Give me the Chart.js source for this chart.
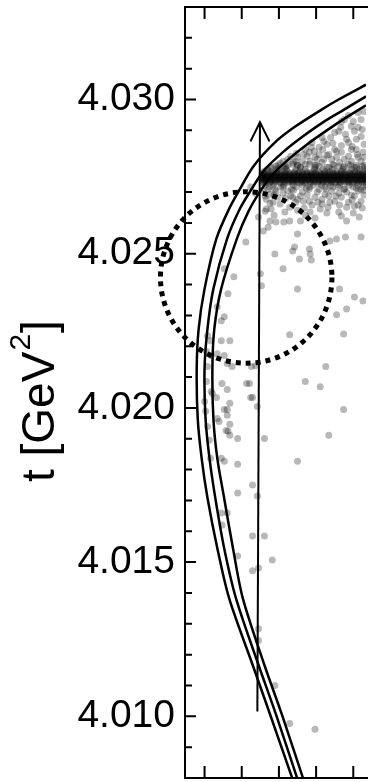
<!DOCTYPE html>
<html>
<head>
<meta charset="utf-8">
<script src="https://cdn.jsdelivr.net/npm/chart.js@4.4.1/dist/chart.umd.min.js"></script>
<style>
  html, body { margin: 0; padding: 0; background: #fff; }
  canvas { display: block; }
</style>
</head>
<body>
<canvas id="grafico" width="370" height="782"></canvas>
<script>
// eixo y: t [GeV^2]; eixo x sem rótulos visíveis (recorte), unidades = passo dos ticks
const yMin = 4.008, yMax = 4.033;
const xMin = -0.526, xMax = 4.342;
const xTickValues = [0, 1, 2, 3, 4];

// três curvas de fronteira (externa, meio, interna)
const curveOuter = [
  [4.342, 4.03048], [3.605, 4.03000], [3.158, 4.02968], [2.447, 4.02913], [1.895, 4.02861],
  [1.316, 4.02784], [0.947, 4.02709], [0.658, 4.02645], [0.316, 4.02548], [0.000, 4.02386],
  [-0.158, 4.02257], [-0.211, 4.02128], [-0.184, 4.01966], [-0.079, 4.01837], [0.079, 4.01708],
  [0.342, 4.01546], [0.658, 4.01384], [1.289, 4.01168], [1.763, 4.01006], [2.368, 4.00796]
];
const curveMiddle = [
  [4.342, 4.03010], [3.763, 4.02968], [3.184, 4.02926], [2.605, 4.02877], [2.132, 4.02832],
  [1.605, 4.02771], [1.263, 4.02709], [0.947, 4.02645], [0.605, 4.02548], [0.237, 4.02386],
  [0.079, 4.02257], [0.000, 4.02128], [0.026, 4.01966], [0.132, 4.01837], [0.289, 4.01708],
  [0.526, 4.01546], [0.842, 4.01384], [1.447, 4.01168], [1.921, 4.01006], [2.500, 4.00796]
];
const curveInner = [
  [4.342, 4.02981], [3.816, 4.02942], [3.289, 4.02900], [2.763, 4.02855], [2.289, 4.02809],
  [1.842, 4.02758], [1.500, 4.02703], [1.184, 4.02638], [0.868, 4.02548], [0.447, 4.02386],
  [0.263, 4.02257], [0.211, 4.02128], [0.237, 4.01966], [0.342, 4.01837], [0.526, 4.01708],
  [0.763, 4.01546], [1.026, 4.01384], [1.605, 4.01168], [2.079, 4.01006], [2.658, 4.00796]
];

// seta vertical (base -> ponta) e círculo pontilhado
const arrowLine = [[1.42, 4.01016], [1.49, 4.02926]];
const dottedCircle = { x: 1.12, y: 4.02423, r: 0.00278 };

// faixa densa de eventos: [t, lista de x]
const bandRows = [
  [4.02787, [1.98, 2.50, 3.00, 3.48, 3.93, 4.29]],
  [4.02780, [1.81, 2.17, 2.58, 2.97, 3.35, 3.73, 4.09, 4.32]],
  [4.02774, [1.68, 1.93, 2.20, 2.45, 2.71, 2.95, 3.19, 3.44, 3.71, 3.96, 4.17, 4.38]],
  [4.02767, [1.60, 1.76, 1.92, 2.09, 2.24, 2.42, 2.56, 2.74, 2.91, 3.05, 3.23, 3.37, 3.54, 3.69, 3.86, 4.04, 4.18, 4.33]],
  [4.02762, [1.58, 1.70, 1.82, 1.95, 2.06, 2.18, 2.28, 2.41, 2.53, 2.63, 2.76, 2.87, 2.98, 3.09, 3.22, 3.32, 3.45, 3.56, 3.68, 3.78, 3.91, 4.02, 4.13, 4.25, 4.36]],
  [4.02758, [1.55, 1.63, 1.75, 1.84, 1.93, 2.03, 2.12, 2.20, 2.30, 2.39, 2.47, 2.58, 2.66, 2.75, 2.86, 2.93, 3.02, 3.13, 3.21, 3.31, 3.38, 3.48, 3.57, 3.65, 3.75, 3.84, 3.94, 4.03, 4.12, 4.21, 4.30]],
  [4.02753, [1.55, 1.62, 1.69, 1.77, 1.86, 1.94, 2.01, 2.10, 2.17, 2.25, 2.33, 2.40, 2.49, 2.57, 2.64, 2.73, 2.81, 2.88, 2.97, 3.04, 3.12, 3.20, 3.28, 3.36, 3.44, 3.51, 3.60, 3.67, 3.76, 3.85, 3.92, 4.01, 4.10, 4.19, 4.28, 4.37]],
  [4.02751, [1.57, 1.65, 1.74, 1.81, 1.90, 1.99, 2.06, 2.16, 2.23, 2.32, 2.41, 2.50, 2.59, 2.68, 2.78, 2.87, 2.95, 3.05, 3.14, 3.22, 3.32, 3.41, 3.50, 3.59, 3.69, 3.78, 3.86, 3.96, 4.05, 4.15, 4.23, 4.32]],
  [4.02748, [1.56, 1.60, 1.66, 1.72, 1.80, 1.91, 1.97, 2.05, 2.14, 2.19, 2.29, 2.36, 2.43, 2.54, 2.60, 2.67, 2.77, 2.84, 2.90, 3.01, 3.07, 3.15, 3.24, 3.30, 3.40, 3.46, 3.55, 3.63, 3.70, 3.79, 3.88, 3.95, 4.06, 4.16, 4.24, 4.33]],
  [4.02743, [1.57, 1.59, 1.64, 1.74, 1.83, 1.89, 1.99, 2.07, 2.12, 2.22, 2.31, 2.38, 2.46, 2.52, 2.62, 2.70, 2.79, 2.86, 2.94, 3.03, 3.10, 3.18, 3.26, 3.34, 3.42, 3.49, 3.58, 3.66, 3.74, 3.82, 3.90, 3.99, 4.08, 4.14, 4.22, 4.31, 4.39]],
  [4.02740, [1.58, 1.66, 1.76, 1.85, 1.95, 2.04, 2.13, 2.23, 2.32, 2.42, 2.49, 2.59, 2.69, 2.78, 2.88, 2.97, 3.06, 3.16, 3.27, 3.37, 3.46, 3.56, 3.64, 3.73, 3.83, 3.93, 4.02, 4.11, 4.20, 4.29, 4.38]],
  [4.02738, [1.56, 1.61, 1.71, 1.79, 1.88, 1.98, 2.08, 2.16, 2.26, 2.35, 2.44, 2.51, 2.61, 2.71, 2.80, 2.89, 2.99, 3.08, 3.17, 3.25, 3.35, 3.43, 3.53, 3.62, 3.71, 3.80, 3.89, 3.98, 4.07, 4.17, 4.26, 4.35]],
  [4.02733, [1.58, 1.67, 1.78, 1.90, 2.02, 2.15, 2.27, 2.37, 2.50, 2.62, 2.72, 2.85, 2.96, 3.06, 3.19, 3.29, 3.41, 3.52, 3.64, 3.77, 3.87, 4.00, 4.11, 4.23, 4.34]],
  [4.02729, [1.59, 1.73, 1.87, 2.04, 2.21, 2.36, 2.55, 2.69, 2.85, 3.03, 3.16, 3.33, 3.50, 3.66, 3.83, 3.97, 4.15, 4.30]],
  [4.02722, [1.62, 1.85, 2.13, 2.39, 2.64, 2.92, 3.14, 3.39, 3.63, 3.89, 4.12, 4.36]],
  [4.02716, [1.74, 2.11, 2.48, 2.83, 3.24, 3.59, 3.99, 4.27]],
  [4.02709, [1.89, 2.34, 2.81, 3.27, 3.75, 4.20]]
];

// eventos acima da faixa
const haloAbove = [
  [3.68, 4.02929], [3.76, 4.02935], [4.21, 4.02935], [3.95, 4.02913], [3.50, 4.02893], [3.61, 4.02897],
  [4.03, 4.02897], [4.21, 4.02880], [3.87, 4.02861], [3.21, 4.02864], [3.29, 4.02855], [2.89, 4.02861],
  [4.08, 4.02838], [2.71, 4.02838], [2.95, 4.02832], [3.08, 4.02822], [3.34, 4.02822], [3.68, 4.02829],
  [4.26, 4.02829], [2.50, 4.02813], [2.32, 4.02816], [2.11, 4.02800], [2.63, 4.02800], [2.84, 4.02800],
  [3.16, 4.02796], [3.42, 4.02806], [3.63, 4.02796], [3.95, 4.02800], [4.21, 4.02800], [2.37, 4.02790],
  [1.92, 4.02784], [2.11, 4.02780], [1.76, 4.02780], [2.50, 4.02787], [2.97, 4.02787], [3.29, 4.02780],
  [3.76, 4.02784], [4.08, 4.02787], [2.24, 4.02806], [2.76, 4.02816], [3.50, 4.02838], [3.82, 4.02871],
  [4.13, 4.02910], [3.87, 4.02948], [4.13, 4.02958], [4.29, 4.02961], [3.18, 4.02838], [3.55, 4.02813],
  [3.03, 4.02806], [2.71, 4.02790], [2.03, 4.02793], [2.45, 4.02800], [3.87, 4.02816], [4.13, 4.02813],
  [4.29, 4.02855], [3.39, 4.02877], [3.08, 4.02845], [3.97, 4.02848], [3.68, 4.02851], [2.82, 4.02829],
  [2.24, 4.02787], [2.39, 4.02796], [2.58, 4.02780], [2.82, 4.02790], [3.08, 4.02784], [3.21, 4.02806],
  [3.45, 4.02790], [3.61, 4.02784], [3.87, 4.02790], [4.03, 4.02780], [4.24, 4.02784], [2.97, 4.02813],
  [3.29, 4.02819], [3.76, 4.02806], [4.11, 4.02822], [2.66, 4.02822], [3.55, 4.02832], [3.95, 4.02838],
  [4.29, 4.02813], [2.87, 4.02845], [3.45, 4.02858], [3.79, 4.02887], [4.08, 4.02871], [3.66, 4.02910],
  [4.00, 4.02929], [3.16, 4.02877], [4.24, 4.02903], [2.47, 4.02826], [2.18, 4.02784], [2.00, 4.02777]
];

// eventos logo abaixo da faixa
const haloBelow = [
  [1.63, 4.02687], [1.76, 4.02693], [2.11, 4.02696], [2.37, 4.02683], [2.45, 4.02667], [2.58, 4.02687],
  [2.82, 4.02670], [2.97, 4.02683], [3.16, 4.02677], [3.34, 4.02687], [3.50, 4.02670], [3.68, 4.02683],
  [3.87, 4.02667], [4.03, 4.02687], [4.21, 4.02670], [1.66, 4.02677], [1.84, 4.02667], [2.03, 4.02661],
  [2.29, 4.02651], [1.66, 4.02645], [1.79, 4.02645], [2.24, 4.02703], [2.63, 4.02700], [3.03, 4.02700],
  [3.42, 4.02703], [3.82, 4.02700], [4.13, 4.02703], [1.92, 4.02703], [1.58, 4.02703], [2.76, 4.02690],
  [3.24, 4.02693], [3.61, 4.02696], [3.97, 4.02674], [4.29, 4.02690], [2.50, 4.02677], [2.18, 4.02680],
  [2.89, 4.02658], [3.63, 4.02658], [4.13, 4.02658], [3.16, 4.02661], [3.37, 4.02667], [3.82, 4.02651],
  [1.97, 4.02683], [2.68, 4.02648], [1.76, 4.02664], [1.24, 4.02716], [1.37, 4.02696],
  [1.71, 4.02709], [2.05, 4.02716], [2.39, 4.02706], [2.74, 4.02712], [3.08, 4.02709], [3.45, 4.02716],
  [3.76, 4.02709], [4.08, 4.02712], [4.29, 4.02706], [1.87, 4.02690], [2.32, 4.02687], [2.66, 4.02670],
  [3.05, 4.02667], [3.53, 4.02687], [3.95, 4.02690], [4.24, 4.02648], [2.16, 4.02635], [2.50, 4.02641],
  [3.29, 4.02632], [3.68, 4.02622], [1.87, 4.02625], [2.97, 4.02616], [4.00, 4.02632]
];

// eventos esparsos
const sparsePoints = [
  [1.63, 4.02638], [1.45, 4.02619], [1.76, 4.02606], [1.92, 4.02603], [2.13, 4.02603], [2.29, 4.02606],
  [2.58, 4.02606], [2.84, 4.02635], [3.11, 4.02645], [3.32, 4.02651], [3.61, 4.02635], [3.82, 4.02606],
  [4.16, 4.02619], [1.58, 4.02574], [1.71, 4.02586], [2.50, 4.02564], [3.55, 4.02548], [3.79, 4.02554],
  [4.21, 4.02554], [1.11, 4.02538], [1.89, 4.02499], [2.11, 4.02451], [2.37, 4.02509], [2.42, 4.02522],
  [2.82, 4.02515], [2.84, 4.02499], [2.87, 4.02480], [1.53, 4.02396], [2.50, 4.02386], [3.63, 4.02386],
  [4.03, 4.02360], [4.26, 4.02347], [3.82, 4.02321], [3.55, 4.02302], [0.79, 4.02425], [0.63, 4.02370],
  [0.45, 4.02218], [0.68, 4.02218], [2.29, 4.02237], [3.74, 4.02240], [0.08, 4.02234], [0.16, 4.02218],
  [0.18, 4.02170], [0.53, 4.02170], [0.53, 4.02451], [1.50, 4.02435], [3.37, 4.02541], [2.55, 4.02483],
  [2.71, 4.02625], [4.03, 4.02654], [0.34, 4.02328], [0.53, 4.02296], [0.45, 4.02283], [0.05, 4.02183],
  [0.34, 4.02176], [0.08, 4.02134], [0.61, 4.02144], [0.74, 4.02134], [1.26, 4.02134], [1.37, 4.02137],
  [3.26, 4.02134], [2.71, 4.02086], [3.11, 4.02069], [0.05, 4.02086], [0.47, 4.02079], [1.13, 4.02079],
  [1.21, 4.02079], [0.61, 4.02060], [0.18, 4.02053], [0.21, 4.02047], [0.32, 4.02034], [1.24, 4.02034],
  [1.29, 4.02034], [0.00, 4.02021], [0.68, 4.02015], [0.53, 4.01995], [0.61, 4.01995], [1.42, 4.02005],
  [3.74, 4.01995], [0.03, 4.01989], [0.61, 4.01976], [0.34, 4.01966], [0.39, 4.01956], [0.08, 4.01940],
  [0.68, 4.01947], [0.58, 4.01927], [0.63, 4.01924], [0.68, 4.01911], [0.89, 4.01901], [1.61, 4.01901],
  [3.34, 4.01911], [0.13, 4.01895], [0.45, 4.01837], [0.53, 4.01827], [0.16, 4.01837], [0.89, 4.01817],
  [2.50, 4.01827], [1.29, 4.01750], [0.89, 4.01724], [1.42, 4.01714], [0.45, 4.01659], [0.61, 4.01659],
  [0.47, 4.01620], [1.29, 4.01585], [1.61, 4.01585], [0.89, 4.01520], [1.82, 4.01507], [1.29, 4.01472],
  [1.45, 4.01481], [1.45, 4.01284], [1.45, 4.01246], [1.89, 4.01100], [2.29, 4.00977], [2.97, 4.00958]
];

const FONTE = "'Liberation Sans', Arial, Helvetica, sans-serif";
const toXY = arr => arr.map(([x, y]) => ({ x, y }));

const scatterPoints = [
  ...bandRows.flatMap(([y, xs]) => xs.map(x => ({ x, y }))),
  ...toXY(haloAbove),
  ...toXY(haloBelow),
  ...toXY(sparsePoints)
];

// moldura, ticks para dentro, ponta da seta, círculo pontilhado e título do eixo y
const frameAndMarks = {
  id: 'frameAndMarks',
  afterDatasetsDraw(chart) {
    const { ctx, chartArea: a, scales: { x, y } } = chart;
    ctx.save();
    ctx.strokeStyle = '#000';

    // ponta da seta
    const [tx, ty] = arrowLine[arrowLine.length - 1];
    const px = x.getPixelForValue(tx), py = y.getPixelForValue(ty);
    ctx.lineWidth = 2;
    ctx.beginPath();
    ctx.moveTo(px - 9.5, py + 19);
    ctx.lineTo(px, py);
    ctx.lineTo(px + 9.5, py + 19);
    ctx.stroke();

    // círculo pontilhado
    const cx = x.getPixelForValue(dottedCircle.x);
    const cy = y.getPixelForValue(dottedCircle.y);
    const r = Math.abs(y.getPixelForValue(dottedCircle.y + dottedCircle.r) - cy);
    ctx.lineWidth = 5;
    ctx.setLineDash([5, 5]);
    ctx.beginPath();
    ctx.arc(cx, cy, r, 0, Math.PI * 2);
    ctx.stroke();
    ctx.setLineDash([]);

    // moldura (lado direito fica fora do recorte)
    ctx.lineWidth = 2;
    ctx.beginPath();
    ctx.moveTo(a.right + 2, a.top);
    ctx.lineTo(a.left, a.top);
    ctx.lineTo(a.left, a.bottom);
    ctx.lineTo(a.right + 2, a.bottom);
    ctx.stroke();

    // ticks
    ctx.beginPath();
    y.ticks.forEach(t => {
      const yy = y.getPixelForValue(t.value);
      const len = t.label ? 11 : 7;
      ctx.moveTo(a.left, yy);
      ctx.lineTo(a.left + len, yy);
    });
    xTickValues.forEach(v => {
      const xx = x.getPixelForValue(v);
      ctx.moveTo(xx, a.top);
      ctx.lineTo(xx, a.top + 12);
      ctx.moveTo(xx, a.bottom);
      ctx.lineTo(xx, a.bottom - 12);
    });
    ctx.stroke();

    // título do eixo y, com expoente
    ctx.translate(54, 482);
    ctx.rotate(-Math.PI / 2);
    ctx.fillStyle = '#000';
    ctx.textAlign = 'left';
    ctx.textBaseline = 'alphabetic';
    ctx.font = `46px ${FONTE}`;
    ctx.fillText('t [GeV', 0, 0);
    let w = ctx.measureText('t [GeV').width;
    ctx.font = `30px ${FONTE}`;
    ctx.fillText('2', w + 1, -24);
    w += ctx.measureText('2').width + 2;
    ctx.font = `46px ${FONTE}`;
    ctx.fillText(']', w, 0);
    ctx.restore();
  }
};

const curveStyle = {
  showLine: true,
  borderColor: '#000',
  borderWidth: 2.5,
  pointRadius: 0,
  tension: 0.3,
  order: 0
};

const ctx = document.getElementById('grafico').getContext('2d');
new Chart(ctx, {
  type: 'scatter',
  data: {
    datasets: [
      { label: 'externa', data: toXY(curveOuter), ...curveStyle },
      { label: 'meio', data: toXY(curveMiddle), ...curveStyle },
      { label: 'interna', data: toXY(curveInner), ...curveStyle },
      { label: 'seta', data: toXY(arrowLine), ...curveStyle, borderWidth: 2, tension: 0 },
      {
        label: 'eventos',
        data: scatterPoints,
        pointRadius: 3.5,
        pointBackgroundColor: 'rgba(0, 0, 0, 0.28)',
        pointBorderWidth: 0,
        order: 1
      }
    ]
  },
  options: {
    responsive: false,
    animation: false,
    events: [],
    devicePixelRatio: 1,
    layout: { padding: { top: 7, bottom: 2, left: 0, right: 0 } },
    plugins: {
      legend: { display: false },
      tooltip: { enabled: false }
    },
    scales: {
      x: { type: 'linear', min: xMin, max: xMax, display: false },
      y: {
        type: 'linear',
        min: yMin,
        max: yMax,
        grid: { display: false, drawTicks: false },
        border: { display: false },
        ticks: {
          stepSize: 0.001,
          autoSkip: false,
          padding: 10,
          color: '#000',
          font: { family: FONTE, size: 39 },
          callback: v => (Math.abs(v * 200 - Math.round(v * 200)) < 1e-6 ? v.toFixed(3) : '')
        },
        afterFit(scale) {
          scale.width = 185;
          scale.paddingTop = 0;
          scale.paddingBottom = 0;
        }
      }
    }
  },
  plugins: [frameAndMarks]
});
</script>
</body>
</html>
